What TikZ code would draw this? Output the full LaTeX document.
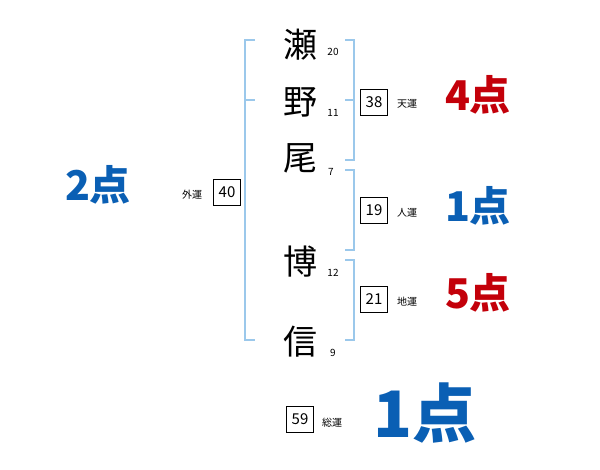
\documentclass[tikz,border=0pt]{standalone}
\usepackage{fontspec}
\newfontfamily\jpfont{Noto Sans CJK JP}
\usetikzlibrary{positioning}
\definecolor{lineblue}{RGB}{155,200,235}
\definecolor{scorered}{RGB}{195,0,10}
\definecolor{scoreblue}{RGB}{10,95,180}
\tikzset{
  every node/.style={
    inner sep=0pt
  },
  kanji/.style={font=\jpfont\fontsize{34}{34}\selectfont},
  strokes/.style={font=\jpfont\fontsize{10}{10}\selectfont},
  unbox/.style={draw, line width=0.8pt, minimum width=27pt,
    minimum height=26pt, font=\jpfont\fontsize{15}{15}\selectfont},
  unlabel/.style={font=\jpfont\fontsize{10}{10}\selectfont},
  score/.style={font=\jpfont\bfseries\fontsize{41}{41}\selectfont},
  bracket/.style={draw=lineblue, line width=1.5pt}
}

\begin{document}
\begin{tikzpicture}[x=1pt,y=-1pt]
    \useasboundingbox (0,0) rectangle (600,470);

    %-------------------------
    % 名前と画数
    %-------------------------
    \node[kanji] (sei1) at (300,45) {瀬};
    \node[kanji] (sei2) at (300,102) {野};
    \node[kanji] (sei3) at (300,158) {尾};
    \node[kanji] (mei1) at (300,262) {博};
    \node[kanji] (mei2) at (300,342) {信};

    \node[strokes] (n1) at (333,52) {20};
    \node[strokes] (n2) at (333,113) {11};
    \node[strokes] (n3) at (331,172) {7};
    \node[strokes] (n4) at (333,273) {12};
    \node[strokes] (n5) at (333,353) {9};

    %-------------------------
    % 括弧
    %-------------------------
    \draw[bracket] (255,40) -- (245,40) -- (245,340) -- (255,340);
    \draw[bracket] (245,100) -- (255,100);
    \draw[bracket] (345,40) -- (354,40) -- (354,160) -- (345,160);
    \draw[bracket] (354,100) -- (345,100);
    \draw[bracket] (345,170) -- (354,170) -- (354,250) -- (345,250);
    \draw[bracket] (345,260) -- (354,260) -- (354,340) -- (345,340);

    %-------------------------
    % 五運
    %-------------------------
    \node[unbox] (gai) at (227,192) {40};
    \node[unlabel] (gaiL) at (192,195) {外運};
    \node[unbox] (ten) at (374,102) {38};
    \node[unlabel] (tenL) at (407,104) {天運};
    \node[unbox] (jin) at (374,210) {19};
    \node[unlabel] (jinL) at (407,213) {人運};
    \node[unbox] (chi) at (374,299) {21};
    \node[unlabel] (chiL) at (407,302) {地運};
    \node[unbox] (sou) at (300,419) {59};
    \node[unlabel] (souL) at (332,423) {総運};

    %-------------------------
    % 点数
    %-------------------------
    \node[score, scoreblue] (gaiS) at (98,185) {2点};
    \node[score, scorered] (tenS) at (478,95) {4点};
    \node[score, scoreblue] (jinS) at (478,206) {1点};
    \node[score, scorered] (chiS) at (478,293) {5点};
    \node[score, scoreblue, font=\jpfont\bfseries\fontsize{64}{64}\selectfont]
      (souS) at (425,413) {1点};
\end{tikzpicture}
\end{document}
